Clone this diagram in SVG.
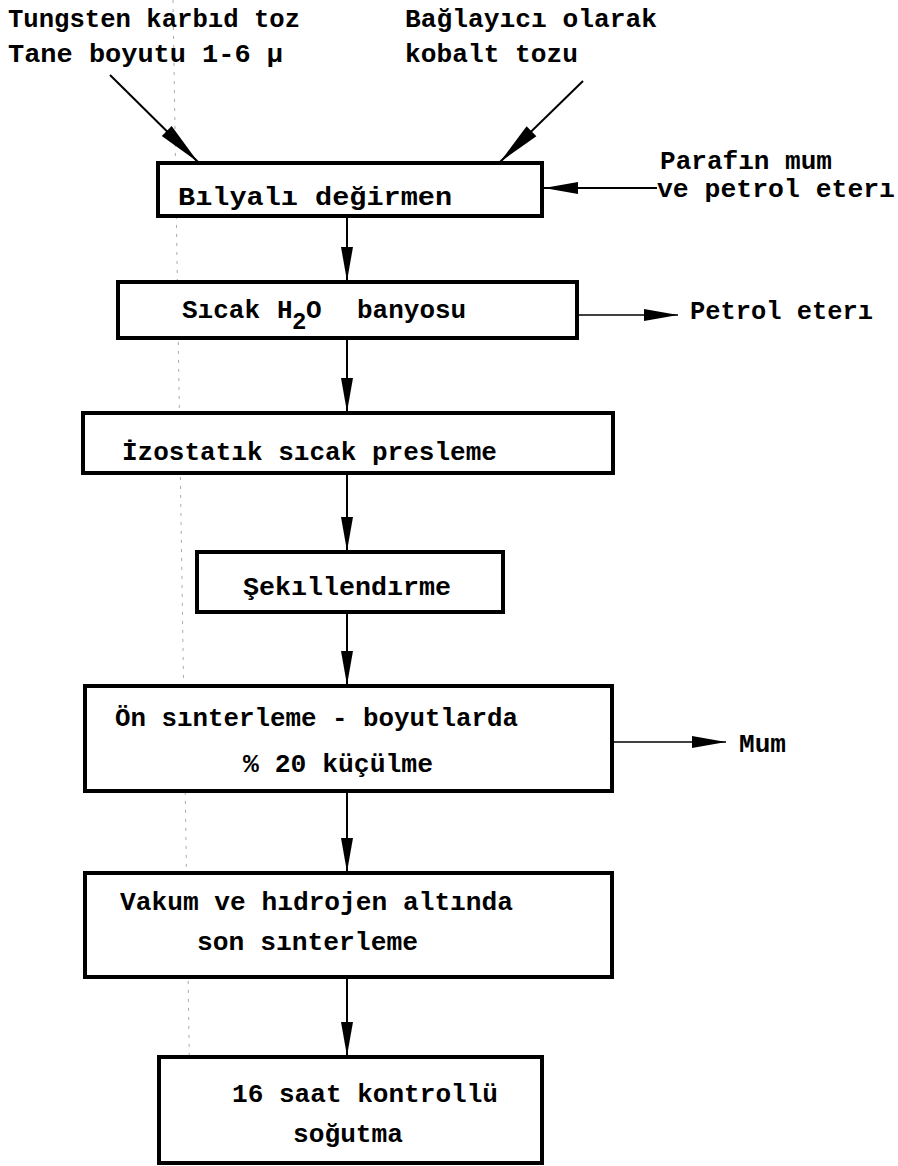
<svg xmlns="http://www.w3.org/2000/svg" width="898" height="1166" viewBox="0 0 898 1166">
<style>
.box{fill:#fff;stroke:#000;stroke-width:4}
.ln{stroke:#000;stroke-width:2;fill:none}
.thin{stroke:#000;stroke-width:1.3;fill:none}
text{font-family:"Liberation Mono","DejaVu Sans Mono",monospace;font-size:26px;font-weight:bold;fill:#000}
</style>
<defs>
<marker id="ah" markerUnits="userSpaceOnUse" markerWidth="40" markerHeight="16" viewBox="0 -8 36 16" refX="34" refY="0" orient="auto">
<path d="M0,-6 L34,0 L0,6 Z" fill="#000"/>
</marker>
<marker id="ahb" markerUnits="userSpaceOnUse" markerWidth="48" markerHeight="18" viewBox="0 -9 46 18" refX="44" refY="0" orient="auto">
<path d="M0,-7 L44,0 L0,7 Z" fill="#000"/>
</marker>
</defs>
<rect width="898" height="1166" fill="#fff"/>
<line x1="173" y1="0" x2="191" y2="1166" stroke="#aaa" stroke-width="1" stroke-dasharray="3 6"/>

<g id="connectors">
<line class="ln" x1="110" y1="75" x2="198" y2="162" marker-end="url(#ahb)"/>
<line class="ln" x1="583" y1="81" x2="500" y2="162" marker-end="url(#ahb)"/>
<line class="ln" x1="657" y1="188" x2="544" y2="188" marker-end="url(#ah)"/>
<line class="ln" x1="347" y1="216" x2="347" y2="281" marker-end="url(#ah)"/>
<line class="thin" x1="577" y1="315" x2="678" y2="315" marker-end="url(#ah)"/>
<line class="ln" x1="347" y1="338" x2="347" y2="412" marker-end="url(#ah)"/>
<line class="ln" x1="347" y1="473" x2="347" y2="551" marker-end="url(#ah)"/>
<line class="ln" x1="347" y1="612" x2="347" y2="685" marker-end="url(#ah)"/>
<line class="thin" x1="612" y1="742" x2="726" y2="742" marker-end="url(#ah)"/>
<line class="ln" x1="347" y1="791" x2="347" y2="872" marker-end="url(#ah)"/>
<line class="ln" x1="347" y1="977" x2="347" y2="1056" marker-end="url(#ah)"/>
</g>

<g id="input-tungsten">
<text x="8" y="27" textLength="292" lengthAdjust="spacingAndGlyphs">Tungsten karbıd toz</text>
<text x="8" y="62" textLength="275" lengthAdjust="spacingAndGlyphs">Tane boyutu 1-6 μ</text>
</g>
<g id="input-kobalt">
<text x="405" y="27" textLength="252" lengthAdjust="spacingAndGlyphs">Bağlayıcı olarak</text>
<text x="405" y="62" textLength="173" lengthAdjust="spacingAndGlyphs">kobalt tozu</text>
</g>
<g id="input-parafin">
<text x="660" y="169" textLength="172" lengthAdjust="spacingAndGlyphs">Parafın mum</text>
<text x="657" y="197" textLength="238" lengthAdjust="spacingAndGlyphs">ve petrol eterı</text>
</g>

<g id="n1">
<rect class="box" x="158" y="163" width="384" height="53"/>
<text x="178" y="205" textLength="274" lengthAdjust="spacingAndGlyphs">Bılyalı  değirmen</text>
</g>
<g id="n2">
<rect class="box" x="118" y="282" width="459" height="56"/>
<text y="318"><tspan x="182">Sıcak</tspan><tspan x="277">H</tspan><tspan x="292" y="329" font-size="24">2</tspan><tspan x="306" y="318">O</tspan><tspan x="357">banyosu</tspan></text>
</g>
<g id="out-petrol">
<text x="690" y="319" textLength="183" lengthAdjust="spacingAndGlyphs">Petrol eterı</text>
</g>
<g id="n3">
<rect class="box" x="83" y="413" width="530" height="60"/>
<text x="122" y="460" textLength="375" lengthAdjust="spacingAndGlyphs">İzostatık sıcak presleme</text>
</g>
<g id="n4">
<rect class="box" x="197" y="552" width="306" height="60"/>
<text x="243" y="595" textLength="208" lengthAdjust="spacingAndGlyphs">Şekıllendırme</text>
</g>
<g id="n5">
<rect class="box" x="85" y="686" width="527" height="105"/>
<text x="115" y="726" textLength="403" lengthAdjust="spacingAndGlyphs">Ön sınterleme - boyutlarda</text>
<text x="243" y="772" textLength="190" lengthAdjust="spacingAndGlyphs">% 20 küçülme</text>
</g>
<g id="out-mum">
<text x="739" y="752" textLength="47" lengthAdjust="spacingAndGlyphs">Mum</text>
</g>
<g id="n6">
<rect class="box" x="85" y="873" width="527" height="104"/>
<text x="120" y="910" textLength="393" lengthAdjust="spacingAndGlyphs">Vakum ve hıdrojen altında</text>
<text x="197" y="950" textLength="221" lengthAdjust="spacingAndGlyphs">son sınterleme</text>
</g>
<g id="n7">
<rect class="box" x="159" y="1057" width="383" height="106"/>
<text x="232" y="1102" textLength="266" lengthAdjust="spacingAndGlyphs">16 saat kontrollü</text>
<text x="293" y="1142" textLength="110" lengthAdjust="spacingAndGlyphs">soğutma</text>
</g>
</svg>
